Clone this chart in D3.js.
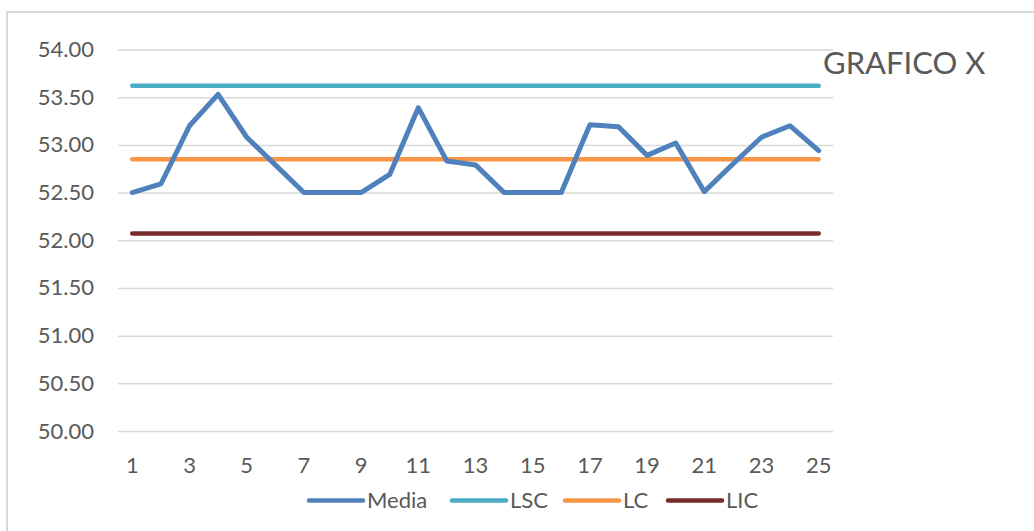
<!DOCTYPE html>
<html><head><meta charset="utf-8">
<script src="https://cdn.jsdelivr.net/npm/d3@7"></script>
<style>
html,body{margin:0;padding:0;background:#fff;}
svg{display:block;}
text{font-family:Lato,"Open Sans",sans-serif;fill:#595959;}
</style></head>
<body>
<svg id="chart" width="1034" height="531"></svg>
<script>
const categories = d3.range(1, 26);
const media = [52.50, 52.59, 53.20, 53.53, 53.08, 52.79, 52.50, 52.50, 52.50, 52.69,
               53.39, 52.83, 52.79, 52.50, 52.50, 52.50, 53.21, 53.19, 52.89, 53.02,
               52.51, 52.80, 53.08, 53.20, 52.94];
const lsc = categories.map(() => 53.62);
const lc  = categories.map(() => 52.85);
const lic = categories.map(() => 52.07);
const yTicks = [50, 50.5, 51, 51.5, 52, 52.5, 53, 53.5, 54];
const xTickLabels = [1, 3, 5, 7, 9, 11, 13, 15, 17, 19, 21, 23, 25];
const seriesNames = ["Media", "LSC", "LC", "LIC"];
const title = "GRAFICO X";

(function () {
const colors = {Media: "#4F81BD", LSC: "#4BACC6", LC: "#F79646", LIC: "#772C2A"};
const series = [
  {name: "Media", values: media, w: 5},
  {name: "LSC", values: lsc, w: 4.5},
  {name: "LC", values: lc, w: 4.5},
  {name: "LIC", values: lic, w: 4.5}
];

const svg = d3.select("#chart");
const pLeft = 118, pRight = 833, pTop = 49.5, pBottom = 431;
const fs = 22;

svg.append("rect").attr("x", 7).attr("y", 12).attr("width", 1040).attr("height", 540)
  .attr("fill", "none").attr("stroke", "#D9D9D9").attr("stroke-width", 2);

const x = d3.scaleBand().domain(categories).range([pLeft, pRight]).padding(0);
const y = d3.scaleLinear().domain([50, 54]).range([pBottom, pTop]);
const cx = d => x(d) + x.bandwidth() / 2;

const yAxis = svg.append("g").attr("transform", `translate(${pLeft},0)`)
  .call(d3.axisLeft(y).tickValues(yTicks).tickFormat(d3.format(".2f"))
    .tickSize(-(pRight - pLeft)).tickPadding(24));
yAxis.select(".domain").remove();
yAxis.selectAll(".tick line").attr("stroke", "#D9D9D9").attr("stroke-width", 1.5);
yAxis.selectAll(".tick text").attr("font-size", fs).attr("fill", "#595959")
  .style("font-family", "Lato, 'Open Sans', sans-serif");

const xAxis = svg.append("g").attr("transform", `translate(0,${pBottom})`)
  .call(d3.axisBottom(x).tickValues(xTickLabels).tickSize(0).tickPadding(26));
xAxis.select(".domain").remove();
xAxis.selectAll(".tick text").attr("font-size", fs).attr("fill", "#595959")
  .style("font-family", "Lato, 'Open Sans', sans-serif");

const line = d3.line().x((d, i) => cx(categories[i])).y(d => y(d));
const order = [series[3], series[2], series[1], series[0]];
svg.append("g").selectAll("path")
  .data(order)
  .join("path")
  .attr("d", s => line(s.values))
  .attr("fill", "none")
  .attr("stroke", s => colors[s.name])
  .attr("stroke-width", s => s.w)
  .attr("stroke-linecap", "round")
  .attr("stroke-linejoin", "round");

svg.append("text").attr("x", 823).attr("y", 74).attr("font-size", 31).text(title);

const legendX = [309, 452, 565, 668];
const lg = svg.append("g");
seriesNames.forEach((n, i) => {
  lg.append("line").attr("x1", legendX[i]).attr("x2", legendX[i] + 54)
    .attr("y1", 500.5).attr("y2", 500.5)
    .attr("stroke", colors[n]).attr("stroke-width", 4.5).attr("stroke-linecap", "round");
  lg.append("text").attr("x", legendX[i] + 58).attr("y", 508)
    .attr("font-size", fs).text(n);
});
})();
</script>
</body></html>
